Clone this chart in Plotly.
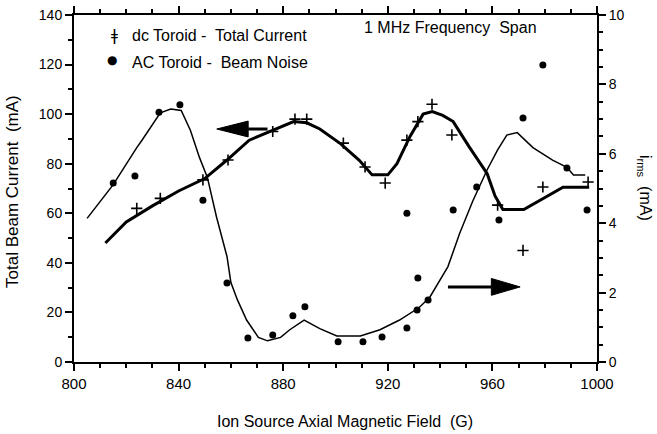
import plotly.graph_objects as go

# ---- data ----
# dc Toroid - Total Current : continuous trace (left axis, mA)
field_total_line = [812, 820, 830, 840, 850, 858.5, 867, 876, 884, 889, 894, 902, 909, 914, 920,
                    923.5, 928.5, 933.5, 937, 941, 945, 951, 958, 961, 964, 972, 978, 987, 997]
current_total_line = [48, 56.5, 63, 69, 74, 81.5, 89.5, 93.5, 97, 96.5, 94, 88, 81.5, 75.5, 75.5,
                      80, 91, 100, 101, 99.5, 97, 87, 76, 67, 61.5, 61.5, 65, 70.5, 70.5]
# dc Toroid - Total Current : '+' points
field_total_pts = [824, 833, 849.3, 858.9, 876, 884.5, 889, 903, 911.3, 919, 927.3, 931.5,
                   936.9, 944.5, 962, 971.7, 979.3, 996.6]
current_total_pts = [62, 66, 73.5, 81.5, 93, 98, 98, 88.3, 78.7, 72.2, 89.5, 97,
                     104, 91.6, 63.3, 45, 70.6, 72.6]

# AC Toroid - Beam Noise : continuous trace (right axis, Irms mA)
field_noise_line = [805, 815, 824, 826, 833, 837, 841, 844.5, 848, 851, 854.5, 858.5, 860, 862.5,
                    866, 870.5, 874, 879, 882.5, 888, 894, 900.5, 909.5, 917, 924.5, 932, 936,
                    940, 943, 947.5, 952.5, 958, 962, 965.5, 969.5, 975.5, 983, 988.5, 991, 995.5]
irms_noise_line = [4.14, 5.11, 6.18, 6.39, 7.18, 7.29, 7.25, 6.68, 5.89, 5.32, 4.18, 3.04, 2.29, 1.79,
                   1.21, 0.71, 0.61, 0.71, 0.93, 1.21, 0.96, 0.75, 0.75, 0.93, 1.21, 1.57, 1.86,
                   2.36, 2.75, 3.71, 4.64, 5.54, 6.11, 6.54, 6.61, 6.18, 5.82, 5.61, 5.39, 5.39]
# AC Toroid - Beam Noise : dot points
field_noise_pts = [815, 823.3, 832.5, 840.5, 849.3, 858.5, 866.5, 876, 883.7, 888.3, 901, 910.5,
                   917.8, 927.3, 927.3, 931.2, 931.5, 935.4, 945, 954, 962.5, 971.7, 979.3, 988.5, 996.2]
irms_noise_pts = [5.16, 5.36, 7.2, 7.41, 4.66, 2.28, 0.69, 0.78, 1.33, 1.59, 0.58, 0.58,
                  0.72, 0.98, 4.29, 1.5, 2.42, 1.79, 4.38, 5.04, 4.09, 7.03, 8.56, 5.59, 4.38]

x_ticks = [800, 840, 880, 920, 960, 1000]
y_left_ticks = [0, 20, 40, 60, 80, 100, 120, 140]
y_right_ticks = [0, 2, 4, 6, 8, 10]

FONT = "Liberation Sans, Arial, sans-serif"

fig = go.Figure()
fig.add_trace(go.Scatter(x=field_total_line, y=current_total_line, mode="lines",
                         line=dict(color="black", width=3), showlegend=False))
fig.add_trace(go.Scatter(x=field_total_pts, y=current_total_pts, mode="markers",
                         marker=dict(symbol="cross-thin-open", size=8, color="black",
                                     line=dict(color="black", width=1.6)),
                         showlegend=False))
fig.add_trace(go.Scatter(x=field_noise_line, y=irms_noise_line, mode="lines", yaxis="y2",
                         line=dict(color="black", width=1.5), showlegend=False))
fig.add_trace(go.Scatter(x=field_noise_pts, y=irms_noise_pts, mode="markers", yaxis="y2",
                         marker=dict(symbol="circle", size=7, color="black"), showlegend=False))

L, R, T, B = 74, 60, 15, 72
W, H = 657, 434
pw, ph = W - L - R, H - T - B


def px(xpix):
    return (xpix - L) / pw


def py(ypix):
    return (H - B - ypix) / ph


# arrows (data coordinates of left-axis units)
def arrow(x_tail, x_tip, y, head_len, head_half):
    d = 1 if x_tip > x_tail else -1
    base = x_tip - d * head_len
    return [
        dict(type="line", xref="x", yref="y", x0=x_tail, x1=base, y0=y, y1=y,
             line=dict(color="black", width=3)),
        dict(type="path", xref="x", yref="y",
             path=f"M{x_tip},{y} L{base},{y + head_half} L{base},{y - head_half} Z",
             fillcolor="black", line=dict(color="black", width=1)),
    ]


shapes = arrow(874, 854.6, 94, 12, 3.2) + arrow(943, 970.6, 30.3, 11, 3.4)

ann = [
    dict(x=px(114), y=py(36), text="ǂ", font=dict(size=15, family="DejaVu Sans")),
    dict(x=px(112), y=py(60), text="●", font=dict(size=12, family="DejaVu Sans")),
    dict(x=px(130), y=py(35), text="dc Toroid -  Total Current", xanchor="left", font=dict(size=16)),
    dict(x=px(130), y=py(62), text="AC Toroid -  Beam Noise", xanchor="left", font=dict(size=16)),
    dict(x=px(362), y=py(27), text="1 MHz Frequency  Span", xanchor="left", font=dict(size=16)),
    dict(x=px(345), y=py(421), text="Ion Source Axial Magnetic Field  (G)", font=dict(size=16)),
    dict(x=px(12), y=py(192), text="Total Beam Current  (mA)", textangle=-90, font=dict(size=17)),
    dict(x=px(645), y=py(188), text="i<sub>rms</sub>  (mA)", textangle=90, font=dict(size=16)),
]
for a in ann:
    a.setdefault("xref", "paper")
    a.setdefault("yref", "paper")
    a.setdefault("xanchor", "center")
    a["yanchor"] = "middle"
    a["showarrow"] = False
    a["font"].setdefault("family", FONT)
    a["font"]["color"] = "black"

axis_common = dict(showgrid=False, zeroline=False, showline=True, linecolor="black", linewidth=2,
                   ticks="outside", tickcolor="black", tickwidth=1.5, ticklen=7, automargin=False)

fig.update_layout(
    template="none",
    width=W, height=H, margin=dict(l=L, r=R, t=T, b=B, autoexpand=False),
    paper_bgcolor="white", plot_bgcolor="white",
    font=dict(family=FONT, color="black"),
    xaxis=dict(range=[800, 1000], tickvals=x_ticks, mirror="ticks",
               minor=dict(dtick=10, ticklen=4, ticks="outside", tickcolor="black", tickwidth=1.5),
               tickfont=dict(size=15), **axis_common),
    yaxis=dict(range=[0, 140], tickvals=y_left_ticks,
               minor=dict(dtick=10, ticklen=4, ticks="outside", tickcolor="black", tickwidth=1.5),
               tickfont=dict(size=14), **axis_common),
    yaxis2=dict(range=[0, 10], tickvals=y_right_ticks, overlaying="y", side="right",
                minor=dict(dtick=0.5, ticklen=4, ticks="outside", tickcolor="black", tickwidth=1.5),
                tickfont=dict(size=14), **axis_common),
    shapes=shapes, annotations=ann, showlegend=False,
)

fig.write_html("out.html", config={"displayModeBar": False},
               post_script="document.body.style.margin='0';document.body.style.overflow='hidden';")
